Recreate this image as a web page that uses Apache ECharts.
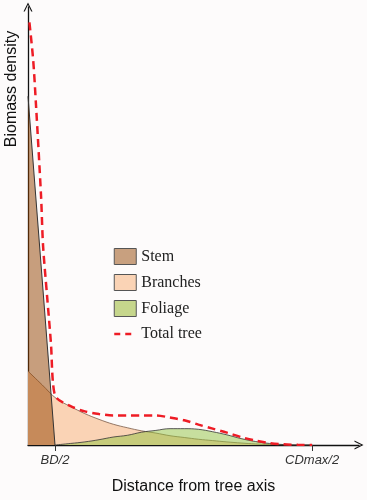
<!DOCTYPE html>
<html>
<head>
<meta charset="utf-8">
<script src="https://cdn.jsdelivr.net/npm/echarts@6/dist/echarts.min.js"></script>
<style>
html,body{margin:0;padding:0;background:#fdfbfb;}
#c{width:367px;height:500px;}
</style>
</head>
<body>
<div id="c"></div>
<script>
// ---- data (x: distance units where CDmax/2 = 10; y: relative biomass density) ----
const tickValues = [0.95, 10];
const tickLabels = ['BD/2', 'CDmax/2'];

const stemX = [0, 0.95];
const stemY = [78.9, 0];

const branchX = [0,0.5,1,1.5,2,2.5,3,3.5,4,4.5,5,5.5,6,6.5,7,7.5,8,8.5,9,9.5,10];
const branchY = [16.7,13.6,10.5,8.7,7.1,5.8,4.7,3.9,3.2,2.7,2.1,1.7,1.3,1.0,0.7,0.45,0.25,0.12,0.05,0,0];

const foliageX = [0.95,1.5,2,2.5,3,3.5,4,4.5,5,5.5,6,6.5,7,7.5,8,8.5,9,9.5,10];
const foliageY = [0,0.35,0.7,1.2,1.8,2.2,2.9,3.3,3.7,3.7,3.55,3.0,2.3,1.45,0.8,0.35,0.1,0,0];

const totalX = [0.05,0.18,0.28,0.46,0.53,0.67,0.81,0.88,1.0,1.5,2,2.5,3,3.5,4,4.5,5,5.5,6,6.5,7,7.5,8,8.5,9,9.5,10];
const totalY = [95.6,87.3,77.1,56.2,45.1,33.8,22.7,14.0,10.7,8.8,7.6,7.0,6.7,6.7,6.7,6.7,6.2,5.6,4.6,3.7,2.8,1.8,1.0,0.45,0.15,0.05,0];

const seriesNames = ['Stem', 'Branches', 'Foliage', 'Total tree'];

const pairs = (xs, ys) => xs.map((x, i) => [x, ys[i]]);

const arrow = 'path://M0,10 L5,0 L10,10 L8.6,10 L5,2.6 L1.4,10 Z';

const chart = echarts.init(document.getElementById('c'));
chart.setOption({
  backgroundColor: '#fdfbfb',
  animation: false,
  grid: { left: 28, right: 8, top: 7, bottom: 47, containLabel: false },
  xAxis: {
    type: 'value', min: 0, max: 11.65,
    name: 'Distance from tree axis', nameLocation: 'middle', nameGap: 34,
    nameTextStyle: { fontFamily: 'Liberation Sans', fontSize: 16, color: '#111' },
    axisLine: { show: true, symbol: ['none', arrow], symbolSize: [10, 9],
      lineStyle: { color: '#111', width: 1.3 } },
    axisTick: { show: true, customValues: tickValues, length: 6, lineStyle: { color: '#333' } },
    axisLabel: { customValues: tickValues, margin: 9,
      formatter: v => { const i = tickValues.indexOf(v); return i >= 0 ? tickLabels[i] : ''; },
      fontFamily: 'Liberation Sans', fontStyle: 'italic', fontSize: 13, color: '#333' },
    splitLine: { show: false }
  },
  yAxis: {
    type: 'value', min: 0, max: 99.1,
    axisLine: { show: true, symbol: ['none', arrow], symbolSize: [10, 9],
      lineStyle: { color: '#111', width: 1.3 } },
    axisTick: { show: false }, axisLabel: { show: false }, splitLine: { show: false }
  },
  legend: {
    orient: 'vertical', left: 113, top: 248, padding: 0, itemWidth: 22, itemHeight: 16, itemGap: 9,
    textStyle: { fontFamily: 'Liberation Serif', fontSize: 16, color: '#222', lineHeight: 16 },
    data: [
      { name: 'Stem', icon: 'rect', itemStyle: { color: '#c8a07f', borderColor: '#555', borderWidth: 1 } },
      { name: 'Branches', icon: 'rect', itemStyle: { color: '#fad3b5', borderColor: '#555', borderWidth: 1 } },
      { name: 'Foliage', icon: 'rect', itemStyle: { color: '#c6d68c', borderColor: '#555', borderWidth: 1 } },
      { name: 'Total tree',
        itemStyle: { color: 'transparent', borderColor: 'transparent', borderWidth: 0 },
        lineStyle: { color: '#ee1c25', width: 2.5, type: [6, 5] } }
    ]
  },
  graphic: [{
    type: 'text', x: 12, y: 89, rotation: Math.PI / 2,
    style: { text: 'Biomass density', font: '16px "Liberation Sans"', fill: '#111',
      textAlign: 'center', textVerticalAlign: 'middle' }
  }],
  series: [
    { name: 'Branches', type: 'line', smooth: 0.4, symbol: 'none', z: 2,
      data: pairs(branchX, branchY),
      lineStyle: { color: '#7a5a48', width: 0.8 },
      itemStyle: { color: '#fad3b5' },
      areaStyle: { color: '#fad3b5', opacity: 1 } },
    { name: 'Foliage', type: 'line', smooth: 0.4, symbol: 'none', z: 3,
      data: pairs(foliageX, foliageY),
      lineStyle: { color: '#333', width: 0.8 },
      itemStyle: { color: '#c6d68c' },
      areaStyle: { color: 'rgba(145,195,65,0.5)', opacity: 1 } },
    { name: 'Stem', type: 'line', smooth: false, symbol: 'none', z: 4,
      data: pairs(stemX, stemY),
      lineStyle: { color: '#333', width: 1 },
      itemStyle: { color: '#c8a07f' },
      areaStyle: { color: 'rgba(145,65,0,0.5)', opacity: 1 } },
    { name: 'Total tree', type: 'line', smooth: 0.3, symbol: 'none', z: 5,
      data: pairs(totalX, totalY),
      itemStyle: { color: '#ee1c25' },
      lineStyle: { color: '#ee1c25', width: 2.5, type: [8, 5] } }
  ]
});
</script>
</body>
</html>
